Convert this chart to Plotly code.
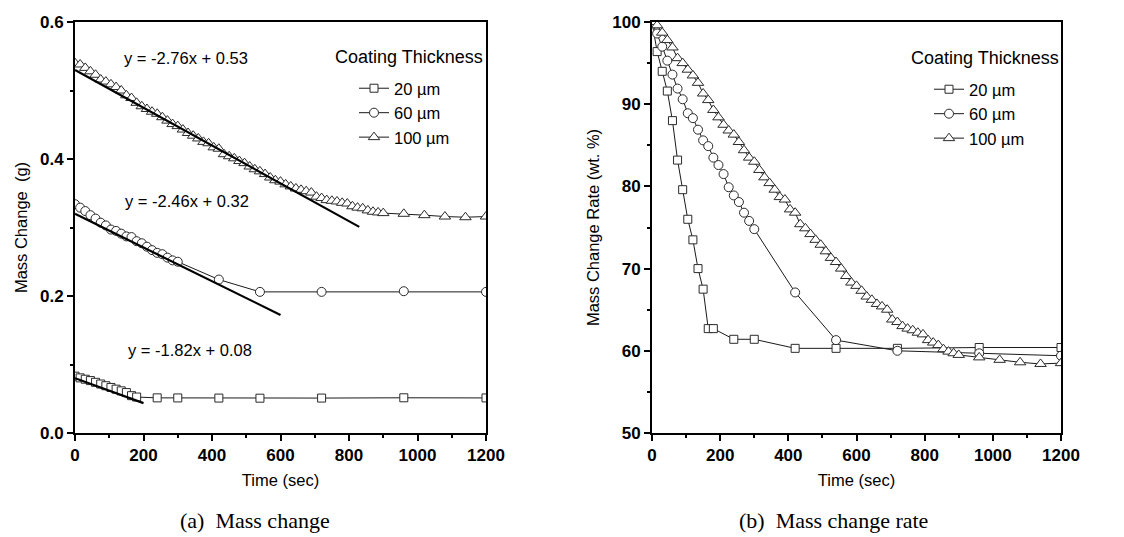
import plotly.graph_objects as go

W, H = 1124, 537

# ---------------- data ----------------
series_names = ["20 µm", "60 µm", "100 µm"]

time_20 = [0, 15, 30, 45, 60, 75, 90, 105, 120, 135, 150, 165, 180, 240, 300, 420, 540, 720, 960, 1200]
mass_20 = [0.083, 0.0805, 0.0785, 0.0765, 0.0740, 0.0715, 0.0690, 0.0665, 0.0640, 0.0615, 0.0590, 0.0545, 0.0525,
           0.0513, 0.0512, 0.0510, 0.0508, 0.0510, 0.0514, 0.0512]
rate_20 = [100, 96.4, 94.0, 91.6, 88.0, 83.2, 79.6, 76.0, 73.5, 70.0, 67.5, 62.7, 62.7,
           61.4, 61.4, 60.3, 60.3, 60.3, 60.4, 60.4]

time_60 = [0, 15, 30, 45, 60, 75, 90, 105, 120, 135, 150, 165, 180, 195, 210, 225, 240, 255, 270, 285, 300,
           420, 540, 720, 960, 1200]
mass_60 = [0.334, 0.329, 0.324, 0.318, 0.313, 0.307, 0.303, 0.297, 0.295, 0.291, 0.287, 0.286, 0.280, 0.277,
           0.272, 0.267, 0.263, 0.261, 0.256, 0.252, 0.250, 0.224, 0.206, 0.206, 0.207, 0.206]
rate_60 = [100, 98.6, 97.0, 95.3, 93.6, 91.9, 90.6, 88.9, 88.3, 86.9, 85.6, 84.9, 83.5, 82.6, 81.5, 79.9,
           78.9, 78.1, 76.8, 75.8, 74.8, 67.1, 61.3, 60.0, 59.7, 59.4]

time_100 = [0, 15, 30, 45, 60, 75, 90, 105, 120, 135, 150, 165, 180, 195, 210, 225, 240, 255, 270, 285,
            300, 315, 330, 345, 360, 375, 390, 405, 420, 435, 450, 465, 480, 495, 510, 525, 540, 555, 570, 585,
            600, 615, 630, 645, 660, 675, 690, 705, 720, 735, 750, 765, 780, 795, 810, 825, 840, 855, 870, 885,
            900, 960, 1020, 1080, 1140, 1200]
mass_100 = [0.540, 0.538, 0.533, 0.528, 0.523, 0.516, 0.513, 0.509, 0.505, 0.500,
            0.493, 0.489, 0.482, 0.477, 0.473, 0.469, 0.466, 0.461, 0.456, 0.451,
            0.448, 0.443, 0.438, 0.434, 0.430, 0.425, 0.423, 0.417, 0.415, 0.407,
            0.404, 0.401, 0.397, 0.394, 0.389, 0.385, 0.382, 0.378, 0.373, 0.369,
            0.367, 0.363, 0.360, 0.357, 0.355, 0.353, 0.351, 0.345, 0.343, 0.340,
            0.339, 0.338, 0.336, 0.335, 0.331, 0.329, 0.328, 0.325, 0.323, 0.322,
            0.321, 0.320, 0.318, 0.316, 0.315, 0.316]
rate_100 = [100, 99.6, 98.7, 97.8, 96.9, 95.6, 95.0, 94.2, 93.5, 92.6,
            91.3, 90.5, 89.3, 88.4, 87.5, 86.8, 86.3, 85.4, 84.4, 83.5,
            83.0, 82.0, 81.1, 80.4, 79.6, 78.7, 78.4, 77.2, 76.8, 75.4,
            74.9, 74.2, 73.5, 72.9, 72.1, 71.3, 70.8, 70.0, 69.1, 68.3,
            67.9, 67.3, 66.6, 66.2, 65.7, 65.4, 65.0, 63.8, 63.5, 63.0,
            62.7, 62.5, 62.2, 62.0, 61.3, 61.0, 60.7, 60.2, 59.9, 59.7,
            59.5, 59.2, 58.9, 58.6, 58.4, 58.5]

# linear fits  y = slope * x + intercept, with x in units of 1e4 s
fit_slopes = [-1.82, -2.46, -2.76]
fit_intercepts = [0.08, 0.32, 0.53]
fit_end_times = [200, 600, 830]
fit_x_unit = 1e-4

x_ticks = [0, 200, 400, 600, 800, 1000, 1200]
mass_ticks = [0.0, 0.2, 0.4, 0.6]
rate_ticks = [50, 60, 70, 80, 90, 100]

# ---------------- helpers ----------------
def px(x):
    return x / W

def py(y):
    return 1 - y / H

symbols = ["square", "circle", "triangle-up"]
msizes = [8, 9, 10]
times = [time_20, time_60, time_100]
masses = [mass_20, mass_60, mass_100]
rates = [rate_20, rate_60, rate_100]

fig = go.Figure()

for i in range(3):
    fig.add_trace(go.Scatter(
        x=times[i], y=masses[i], mode="lines+markers", name=series_names[i],
        xaxis="x", yaxis="y", legend="legend",
        line=dict(color="#1a1a1a", width=1),
        marker=dict(symbol=symbols[i], size=msizes[i], color="white",
                    line=dict(color="#2a2a2a", width=1)),
    ))

for i in range(3):
    t_end = fit_end_times[i]
    fig.add_trace(go.Scatter(
        x=[0, t_end],
        y=[fit_intercepts[i], fit_intercepts[i] + fit_slopes[i] * t_end * fit_x_unit],
        mode="lines", showlegend=False, xaxis="x", yaxis="y",
        line=dict(color="black", width=2.2),
    ))

for i in range(3):
    fig.add_trace(go.Scatter(
        x=times[i], y=rates[i], mode="lines+markers", name=series_names[i],
        xaxis="x2", yaxis="y2", legend="legend2",
        line=dict(color="#1a1a1a", width=1),
        marker=dict(symbol=symbols[i], size=msizes[i], color="white",
                    line=dict(color="#2a2a2a", width=1)),
    ))

tickfont = dict(family="Liberation Sans", size=17, color="black", weight="bold")
titlefont = dict(family="Liberation Sans", size=16.5, color="black")

common_axis = dict(
    showline=True, linecolor="black", linewidth=2, mirror=True,
    ticks="outside", ticklen=6, tickwidth=1.5, tickcolor="black",
    showgrid=False, zeroline=False, tickfont=tickfont, automargin=False,
)

ydom = [py(425), py(14)]

legend_font = dict(family="Liberation Sans", size=16.5, color="black")

fig.update_layout(
    width=W, height=H,
    margin=dict(l=0, r=0, t=0, b=0),
    paper_bgcolor="white", plot_bgcolor="white",
    xaxis=dict(common_axis, domain=[px(67), px(478)], range=[0, 1200], tickvals=x_ticks,
               minor=dict(dtick=100, ticks="outside", ticklen=3, tickcolor="black"),
               title=dict(text="Time (sec)", font=titlefont, standoff=10), anchor="y"),
    yaxis=dict(common_axis, domain=ydom, range=[0, 0.6], tickvals=mass_ticks, tickformat=".1f",
               minor=dict(dtick=0.1, ticks="outside", ticklen=3, tickcolor="black"),
               title=dict(text="Mass Change  (g)", font=titlefont, standoff=8), anchor="x"),
    xaxis2=dict(common_axis, domain=[px(644), px(1053)], range=[0, 1200], tickvals=x_ticks,
                minor=dict(dtick=100, ticks="outside", ticklen=3, tickcolor="black"),
                title=dict(text="Time (sec)", font=titlefont, standoff=10), anchor="y2"),
    yaxis2=dict(common_axis, domain=ydom, range=[50, 100], tickvals=rate_ticks,
                minor=dict(dtick=5, ticks="outside", ticklen=3, tickcolor="black"),
                title=dict(text="Mass Change Rate (wt. %)", font=titlefont, standoff=8), anchor="x2"),
    legend=dict(x=px(346), y=py(63), xanchor="left", yanchor="top", bgcolor="rgba(0,0,0,0)",
                font=legend_font, tracegroupgap=0, itemwidth=30),
    legend2=dict(x=px(921), y=py(64), xanchor="left", yanchor="top", bgcolor="rgba(0,0,0,0)",
                 font=legend_font, tracegroupgap=0, itemwidth=30),
    showlegend=True,
)

ann_font = dict(family="Liberation Sans", size=16.5, color="black")
annotations = [
    dict(text="y = -2.76x + 0.53", x=px(178), y=py(50)),
    dict(text="y = -2.46x + 0.32", x=px(179), y=py(193)),
    dict(text="y = -1.82x + 0.08", x=px(182), y=py(342)),
]
for a in annotations:
    fig.add_annotation(xref="paper", yref="paper", showarrow=False, font=ann_font,
                       xanchor="center", yanchor="middle", **a)

ct_font = dict(family="Liberation Sans", size=18, color="black")
fig.add_annotation(text="Coating Thickness", xref="paper", yref="paper", x=px(325), y=py(49),
                   xanchor="left", yanchor="middle", showarrow=False, font=ct_font)
fig.add_annotation(text="Coating Thickness", xref="paper", yref="paper", x=px(901), y=py(50),
                   xanchor="left", yanchor="middle", showarrow=False, font=ct_font)

cap_font = dict(family="Liberation Serif", size=22, color="black")
fig.add_annotation(text="(a)  Mass change", xref="paper", yref="paper", x=px(247), y=py(512),
                   xanchor="center", yanchor="middle", showarrow=False, font=cap_font)
fig.add_annotation(text="(b)  Mass change rate", xref="paper", yref="paper", x=px(825), y=py(512),
                   xanchor="center", yanchor="middle", showarrow=False, font=cap_font)

fig.write_html("out.html")
